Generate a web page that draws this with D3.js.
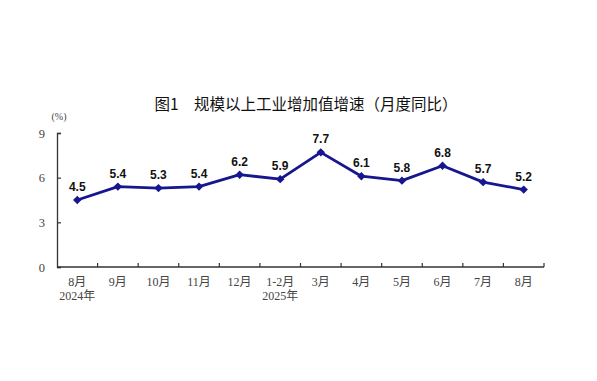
<!DOCTYPE html>
<html>
<head>
<meta charset="utf-8">
<script src="https://cdn.jsdelivr.net/npm/d3@7"></script>
<style>
  body { margin: 0; background: #fff; }
</style>
</head>
<body>
<div id="chart"></div>
<script>
// data
var months = ["8月", "9月", "10月", "11月", "12月", "1-2月", "3月", "4月", "5月", "6月", "7月", "8月"];
var years = ["2024年", "", "", "", "", "2025年", "", "", "", "", "", ""];
var growth = [4.5, 5.4, 5.3, 5.4, 6.2, 5.9, 7.7, 6.1, 5.8, 6.8, 5.7, 5.2];
var yTicks = [0, 3, 6, 9];

var W = 597, H = 381;
var margin = {top: 133, right: 53, bottom: 114, left: 57},
    width = W - margin.left - margin.right,
    height = H - margin.top - margin.bottom;

var svg = d3.select("#chart").append("svg")
    .attr("width", W)
    .attr("height", H);

// title
svg.append("text")
    .attr("x", 306)
    .attr("y", 110)
    .attr("text-anchor", "middle")
    .style("font-family", "'Noto Sans CJK SC', sans-serif")
    .style("font-size", "15.5px")
    .style("font-weight", "400")
    .style("fill", "#111")
    .text("图1\u3000规模以上工业增加值增速（月度同比）");

var g = svg.append("g")
    .attr("transform", "translate(" + margin.left + "," + margin.top + ")");

var x = d3.scaleBand().domain(d3.range(months.length)).range([0, width]);
var y = d3.scaleLinear().domain([0, 9]).range([height, 0]);

var serif = "'Liberation Serif', 'Noto Sans CJK SC', serif";

// y axis
var yAxis = g.append("g")
    .call(d3.axisLeft(y).tickValues(yTicks).tickSize(-4).tickPadding(12));
yAxis.select(".domain").attr("stroke", "#333").attr("stroke-width", 1.3);
yAxis.selectAll(".tick line").attr("stroke", "#333").attr("stroke-width", 1.2);
yAxis.selectAll(".tick text")
    .style("font-family", serif)
    .style("font-size", "12.5px")
    .style("fill", "#444");

g.append("text")
    .attr("x", 2)
    .attr("y", -13)
    .attr("text-anchor", "middle")
    .style("font-family", serif)
    .style("font-size", "10px")
    .style("fill", "#444")
    .text("(%)");

// x axis: ticks sit between the categories and point up
var xEdges = d3.range(months.length + 1).map(function(i) { return i * x.step(); });
var xAxis = g.append("g").attr("transform", "translate(0," + height + ")");
xAxis.append("line")
    .attr("x1", 0).attr("x2", width)
    .attr("stroke", "#333").attr("stroke-width", 1.5);
xAxis.selectAll(".xtick")
    .data(xEdges.slice(1))
    .enter().append("line")
    .attr("x1", function(d) { return d; })
    .attr("x2", function(d) { return d; })
    .attr("y1", 0).attr("y2", -4)
    .attr("stroke", "#333").attr("stroke-width", 1.2);
xAxis.selectAll(".mlabel")
    .data(months)
    .enter().append("text")
    .attr("x", function(d, i) { return x(i) + x.bandwidth() / 2; })
    .attr("y", 19)
    .attr("text-anchor", "middle")
    .style("font-family", serif)
    .style("font-size", "12px")
    .style("fill", "#444")
    .text(function(d) { return d; });
xAxis.selectAll(".ylabel")
    .data(years)
    .enter().append("text")
    .attr("x", function(d, i) { return x(i) + x.bandwidth() / 2; })
    .attr("y", 33)
    .attr("text-anchor", "middle")
    .style("font-family", serif)
    .style("font-size", "12px")
    .style("fill", "#444")
    .text(function(d) { return d; });

// line
var line = d3.line()
    .x(function(d, i) { return x(i) + x.bandwidth() / 2; })
    .y(function(d) { return y(d); });

var navy = "#16168f";

g.append("path")
    .datum(growth)
    .attr("fill", "none")
    .attr("stroke", navy)
    .attr("stroke-width", 2.8)
    .attr("stroke-linejoin", "round")
    .attr("d", line);

g.selectAll(".pt")
    .data(growth)
    .enter().append("path")
    .attr("transform", function(d, i) {
        return "translate(" + (x(i) + x.bandwidth() / 2) + "," + y(d) + ")";
    })
    .attr("d", d3.symbol().type(d3.symbolDiamond2).size(45))
    .attr("fill", navy);

g.selectAll(".val")
    .data(growth)
    .enter().append("text")
    .attr("x", function(d, i) { return x(i) + x.bandwidth() / 2; })
    .attr("y", function(d) { return y(d) - 9; })
    .attr("text-anchor", "middle")
    .style("font-family", "'Liberation Sans', Arial, sans-serif")
    .style("font-size", "12px")
    .style("font-weight", "bold")
    .style("fill", "#111")
    .text(function(d) { return d.toFixed(1); });
</script>
</body>
</html>
